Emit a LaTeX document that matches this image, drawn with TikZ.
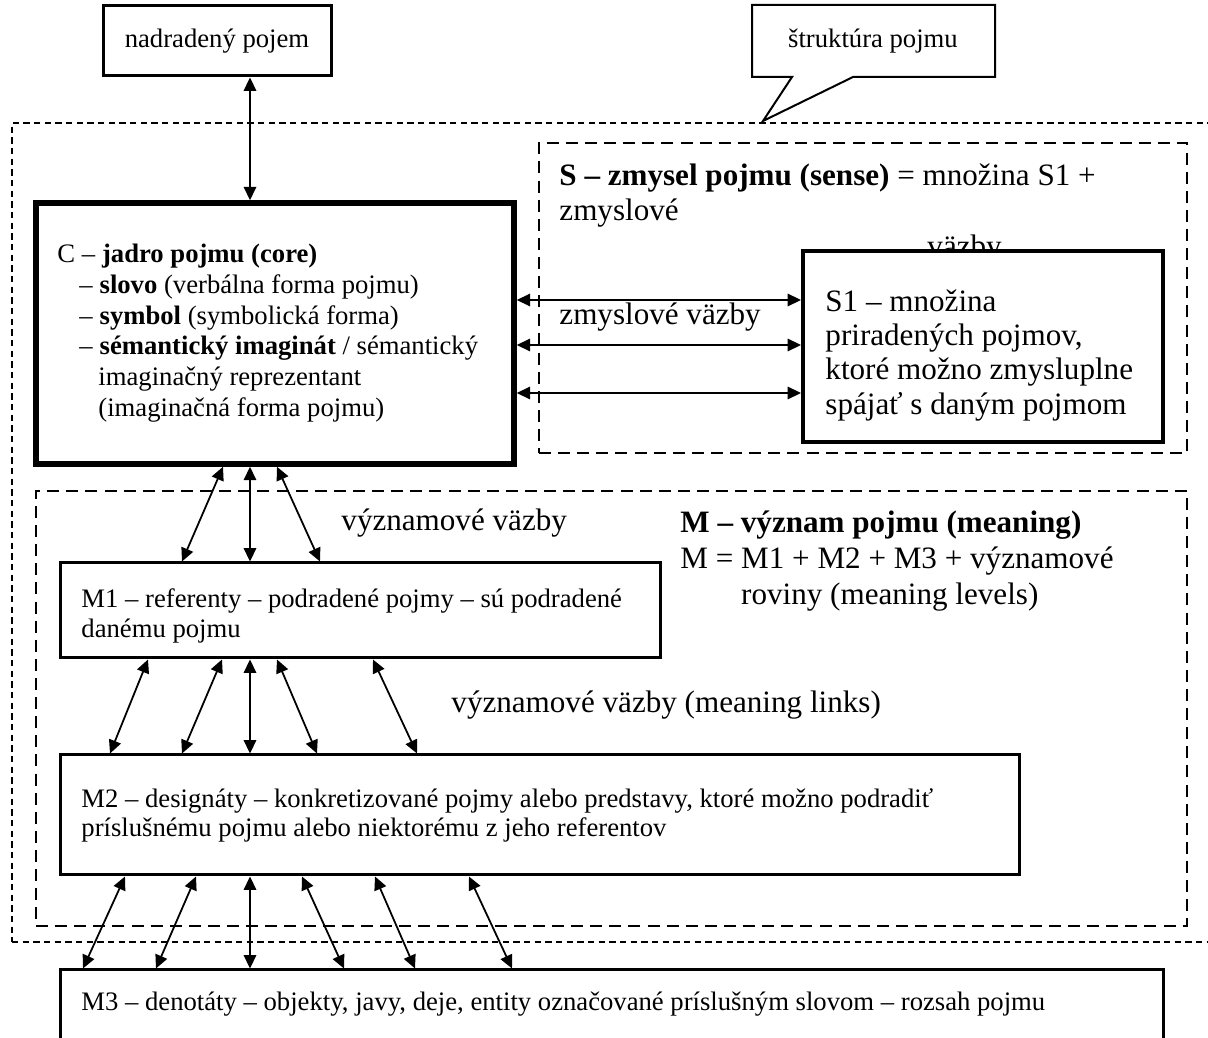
\documentclass[tikz,border=0pt]{standalone}
\usepackage{fontspec}
\setmainfont{Liberation Serif}
\usetikzlibrary{arrows.meta,fit}
\newdimen\pxu \pxu=0.45pt
\begin{document}
\begin{tikzpicture}[x=0.45pt,y=-0.45pt,
  small/.style={font=\fontsize{12}{13.8}\selectfont},
  large/.style={font=\fontsize{14}{15.6}\selectfont},
  txt/.style={inner sep=0pt, align=left},
  frame/.style={draw, inner sep=0pt, fill=white},
  core/.style={frame, line width=2.5pt},
  senseset/.style={frame, line width=1.8pt},
  level/.style={frame, line width=1.35pt},
  outerzone/.style={draw, inner sep=0pt, line width=0.8pt, dash pattern=on 2.9pt off 1.9pt},
  zone/.style={draw, inner sep=0pt, line width=0.9pt, dash pattern=on 5.4pt off 3.2pt},
  link/.style={line width=0.8pt, {Triangle[length=6pt,width=5.6pt]}-{Triangle[length=6pt,width=5.6pt]}},
]
\useasboundingbox (0,0) rectangle (1208,1038);
\fill[white] (0,0) rectangle (1208,1038);

% dashed zones: whole concept structure, sense S, meaning M
\node[outerzone, fit={(12,123) (1222,942)}] (struct) {};
\node[zone, fit={(539,143) (1187,453)}] (S) {};
\node[zone, fit={(36,491) (1187,926)}] (M) {};

% callout
\draw[line width=0.9pt, fill=white] (752,5) -- (995,5) -- (995,77) -- (853,77)
  -- (763,121) -- (792,77) -- (752,77) -- cycle;
\node[small, txt] (structlabel) at (873,41) {štruktúra pojmu};

% zone captions
\node[large, txt, anchor=north west, font=\fontsize{14}{15.75}\selectfont] (Stext) at (559,163)
  {\textbf{S – zmysel pojmu (sense)} = množina S1 +\\zmyslové};
\node[large, txt, anchor=base west] (Stail) at (927,257) {väzby};
\node[large, txt, anchor=north west, font=\fontsize{14}{16.2}\selectfont] (Mtext) at (680,510)
  {\textbf{M – význam pojmu (meaning)}\\M = M1 + M2 + M3 + významové\\\phantom{M = }roviny (meaning levels)};
\node[large, txt, anchor=base west] (senselinks) at (559,325) {zmyslové väzby};
\node[large, txt, anchor=base west] (meaninglinks1) at (341,531) {významové väzby};
\node[large, txt, anchor=base west] (meaninglinks2) at (451,713) {významové väzby (meaning links)};

% boxes
\node[level, fit={(103,6) (331,76)}] (super) {};
\node[small, txt] (superlabel) at (super.center) {nadradený pojem};
\node[core, fit={(36,203) (514,464)}] (C) {};
\node[senseset, fit={(803,251) (1163,442)}] (S1) {};
\node[level, fit={(60,563) (660,658)}] (M1) {};
\node[level, fit={(60,755) (1019,875)}] (M2) {};
\node[level, fit={(60,970) (1163,1060)}] (M3) {};

% box texts
\node[small, txt, anchor=north west] (Ctext) at (57,244)
  {C – \textbf{jadro pojmu (core)}\\
   \hspace*{22\pxu}– \textbf{slovo} (verbálna forma pojmu)\\
   \hspace*{22\pxu}– \textbf{symbol} (symbolická forma)\\
   \hspace*{22\pxu}– \textbf{sémantický imaginát} / sémantický\\
   \hspace*{41\pxu}imaginačný reprezentant\\
   \hspace*{41\pxu}(imaginačná forma pojmu)};
\node[large, txt, anchor=north west, font=\fontsize{14}{15.5}\selectfont] (S1text) at (825,289)
  {S1 – množina\\priradených pojmov,\\ktoré možno zmysluplne\\spájať s daným pojmom};
\node[small, txt, anchor=north west, font=\fontsize{12}{13.5}\selectfont] (M1text) at (81,588)
  {M1 – referenty – podradené pojmy – sú podradené\\danému pojmu};
\node[small, txt, anchor=north west, font=\fontsize{12}{13.1}\selectfont] (M2text) at (81,788)
  {M2 – designáty – konkretizované pojmy alebo predstavy, ktoré možno podradiť\\príslušnému pojmu alebo niektorému z jeho referentov};
\node[small, txt, anchor=base west] (M3text) at (81,1011)
  {M3 – denotáty – objekty, javy, deje, entity označované príslušným slovom – rozsah pojmu};

% links
\draw[link] (super.south -| 250,0) -- (C.north -| 250,0);
\foreach \y in {300,345,393}
  \draw[link] (C.east |- 0,\y) -- (S1.west |- 0,\y);
\foreach \a/\b in {223/182, 250/250, 277/320}
  \draw[link] (C.south -| \a,0) -- (M1.north -| \b,0);
\foreach \a/\b in {148/110, 222/182, 250/250, 277/317, 373/417}
  \draw[link] (M1.south -| \a,0) -- (M2.north -| \b,0);
\foreach \a/\b in {125/83, 196/156, 250/250, 302/344, 375/415, 469/512}
  \draw[link] (M2.south -| \a,0) -- (M3.north -| \b,0);
\end{tikzpicture}
\end{document}
